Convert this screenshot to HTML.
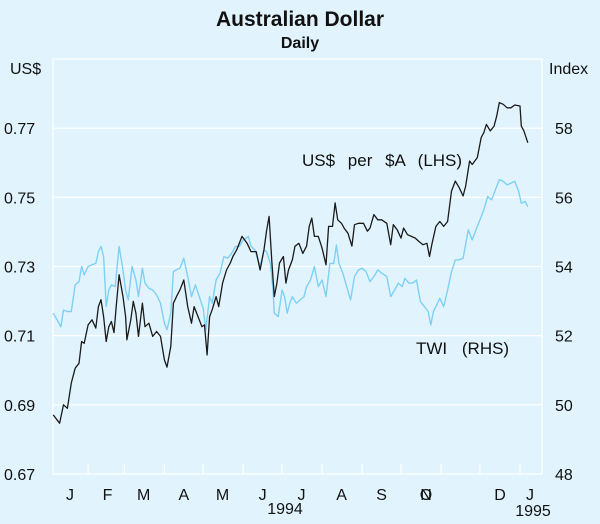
<!DOCTYPE html>
<html><head><meta charset="utf-8"><style>
html,body{margin:0;padding:0;background:#e1f4fd;}
svg{display:block;font-family:"Liberation Sans",Arial,sans-serif;}
</style></head><body>
<svg width="600" height="524" viewBox="0 0 600 524">
<rect x="0" y="0" width="600" height="524" fill="#e1f4fd"/>
<text x="300" y="26" text-anchor="middle" font-size="21" font-weight="bold" fill="#111">Australian  Dollar</text>
<text x="300" y="48" text-anchor="middle" font-size="16" font-weight="bold" fill="#111">Daily</text>
<text x="10" y="74" font-size="16" fill="#111">US$</text>
<text x="549" y="74" font-size="16" fill="#111">Index</text>
<g id="grid"></g><g id="axes"></g><g id="series"></g>
<text x="302" y="166" font-size="17" word-spacing="8" fill="#111">US$ per $A (LHS)</text>
<text x="416" y="354" font-size="17" word-spacing="10" fill="#111">TWI (RHS)</text>
</svg>
<script>
const usdDays=[4,9,12,15,18,21,24,26,28,31,34,37,39,41,43,45,47,49,51,53,55,58,60,61,64,66,68,70,73,75,78,81,84,87,90,92,95,97,100,102,105,108,111,113,116,119,121,123,125,127,130,132,135,138,141,143,146,150,154,157,161,164,167,169,171,173,175,177,179,182,184,186,189,191,194,197,200,202,204,206,209,212,215,217,220,222,224,227,229,232,235,237,240,244,247,249,252,255,258,262,265,267,270,273,275,278,281,284,287,290,293,295,297,300,303,306,309,312,315,318,321,323,326,328,332,335,337,339,342,345,347,349,352,355,358,361,365,366,368,371];
const usdValues=[0.6871,0.6847,0.6900,0.6890,0.6963,0.7006,0.7020,0.7083,0.7078,0.7131,0.7146,0.7122,0.7184,0.7204,0.7155,0.7083,0.7126,0.7141,0.7109,0.7194,0.7276,0.7213,0.7155,0.7088,0.7146,0.7199,0.7165,0.7098,0.7194,0.7126,0.7136,0.7098,0.7112,0.7098,0.7030,0.7009,0.7069,0.7194,0.7218,0.7232,0.7261,0.7184,0.7136,0.7184,0.7155,0.7126,0.7131,0.7044,0.7155,0.7175,0.7213,0.7184,0.7252,0.7290,0.7310,0.7329,0.7349,0.7387,0.7367,0.7343,0.7343,0.7290,0.7349,0.7402,0.7445,0.7320,0.7213,0.7252,0.7310,0.7329,0.7252,0.7290,0.7320,0.7359,0.7367,0.7338,0.7359,0.7416,0.7440,0.7387,0.7387,0.7353,0.7305,0.7416,0.7416,0.7484,0.7435,0.7425,0.7411,0.7396,0.7359,0.7421,0.7425,0.7425,0.7402,0.7411,0.7450,0.7435,0.7435,0.7425,0.7363,0.7421,0.7406,0.7382,0.7411,0.7392,0.7387,0.7382,0.7372,0.7363,0.7367,0.7329,0.7367,0.7416,0.7430,0.7416,0.7430,0.7518,0.7547,0.7528,0.7504,0.7533,0.7605,0.7595,0.7615,0.7673,0.7687,0.7711,0.7692,0.7706,0.7735,0.7774,0.7769,0.7759,0.7759,0.7767,0.7764,0.7706,0.7692,0.7658];
const twiDays=[4,7,10,12,15,18,21,24,26,28,31,34,37,39,41,43,45,47,49,52,55,58,60,62,65,68,70,73,75,78,81,84,87,90,92,95,97,99,102,105,108,111,114,117,120,122,125,127,130,133,136,139,142,145,148,151,155,157,160,164,167,169,172,174,175,178,181,183,185,187,189,192,195,198,200,203,206,209,212,215,218,221,223,225,228,231,234,237,240,243,246,249,252,255,258,262,265,268,271,274,276,279,282,285,288,291,294,296,298,300,303,306,309,312,315,318,321,325,328,332,335,337,340,343,346,349,352,355,358,361,364,366,369,371];
const twiValues=[52.65,52.46,52.26,52.74,52.70,52.70,53.47,53.56,54.00,53.76,54.00,54.05,54.09,54.43,54.58,54.29,52.84,53.32,53.47,53.42,54.58,53.90,53.32,53.03,54.00,53.61,53.13,53.95,53.52,53.37,53.32,53.18,52.94,52.36,52.17,52.65,53.85,53.90,53.95,54.24,53.71,53.13,53.47,53.13,52.79,52.17,53.13,52.94,53.61,53.81,54.29,54.24,54.38,54.58,54.58,54.77,54.87,54.58,54.48,54.00,54.48,54.43,54.09,53.32,52.65,52.55,53.32,53.13,52.65,52.94,53.13,52.94,53.03,53.13,53.42,53.61,54.00,53.42,53.61,53.13,54.09,54.09,54.62,54.09,53.81,53.42,53.03,53.71,53.90,53.95,53.85,53.56,53.71,53.90,53.81,53.71,53.13,53.32,53.52,53.42,53.66,53.52,53.52,53.61,52.99,52.84,52.70,52.31,52.70,52.84,53.08,52.84,53.32,53.85,54.19,54.19,54.24,55.06,54.77,55.16,55.44,55.64,56.02,55.93,56.22,56.51,56.46,56.36,56.41,56.46,56.17,55.83,55.88,55.73];
const leftTicks=[0.67,0.69,0.71,0.73,0.75,0.77];
const rightTicks=[48,50,52,54,56,58];
const monthLabels=["J","F","M","A","M","J","J","A","S","O","N","D","J"];
const monthStartDays=[0,31,59,90,120,151,181,212,243,273,304,334,365];

const NS="http://www.w3.org/2000/svg";
const PL=53,PR=542,PT=59,PB=474;
function xScale(d){return 48+d*(520-48)/365;}
function yL(v){return PB-(v-0.67)/(0.79-0.67)*(PB-PT);}
function yR(v){return PB-(v-48)/(60-48)*(PB-PT);}
function mk(tag,parent,attrs){const e=document.createElementNS(NS,tag);for(const k in attrs)e.setAttribute(k,attrs[k]);parent.appendChild(e);return e;}
const grid=document.getElementById('grid'),axes=document.getElementById('axes'),series=document.getElementById('series');

leftTicks.forEach((t,i)=>{
  const y=yL(t);
  if(i>0){const g=mk('line',grid,{x1:PL,x2:PR,y1:y,y2:y,stroke:'#fff','stroke-width':1.2});
  
  }
  const tx=mk('text',axes,{x:4,y:y+6,'font-size':16,fill:'#111'});tx.textContent=t.toFixed(2);
  
  
});
rightTicks.forEach(t=>{
  const y=yR(t);
  const tx=mk('text',axes,{x:555,y:y+6,'font-size':16,fill:'#111'});tx.textContent=t;
  
  
});
const frame=mk('rect',axes,{x:PL,y:PT,width:PR-PL,height:PB-PT,fill:'none',stroke:'#fff','stroke-width':1.2});


monthStartDays.slice(1).forEach(d=>{
  const x=xScale(d);
  const tk=mk('line',axes,{x1:x,x2:x,y1:PB,y2:PB-10,stroke:'#fff','stroke-width':1.2});
  
  
});
monthLabels.forEach((m,i)=>{
  let x=xScale(monthStartDays[i]+15);
  if(i===9||i===10)x=426;
  if(i===11)x=500;
  if(i===12)x=530;
  if(i===0)x=70;
  const tx=mk('text',axes,{x:x,y:500,'font-size':16,fill:'#111','text-anchor':'middle'});tx.textContent=m;
  
  
});
const y94=mk('text',axes,{x:285,y:514,'font-size':16,fill:'#111','text-anchor':'middle'});y94.textContent='1994';


const y95=mk('text',axes,{x:533,y:516,'font-size':16,fill:'#111','text-anchor':'middle'});y95.textContent='1995';



const twiPts=twiDays.map((d,i)=>xScale(d).toFixed(1)+','+yR(twiValues[i]).toFixed(1)).join(' ');
const twi=mk('polyline',series,{points:twiPts,fill:'none',stroke:'#7fd0f5','stroke-width':1.4,'stroke-linejoin':'round'});


const usdPts=usdDays.map((d,i)=>xScale(d).toFixed(1)+','+yL(usdValues[i]).toFixed(1)).join(' ');
const usd=mk('polyline',series,{points:usdPts,fill:'none',stroke:'#1a1a1a','stroke-width':1.3,'stroke-linejoin':'round'});


</script>
</body></html>
